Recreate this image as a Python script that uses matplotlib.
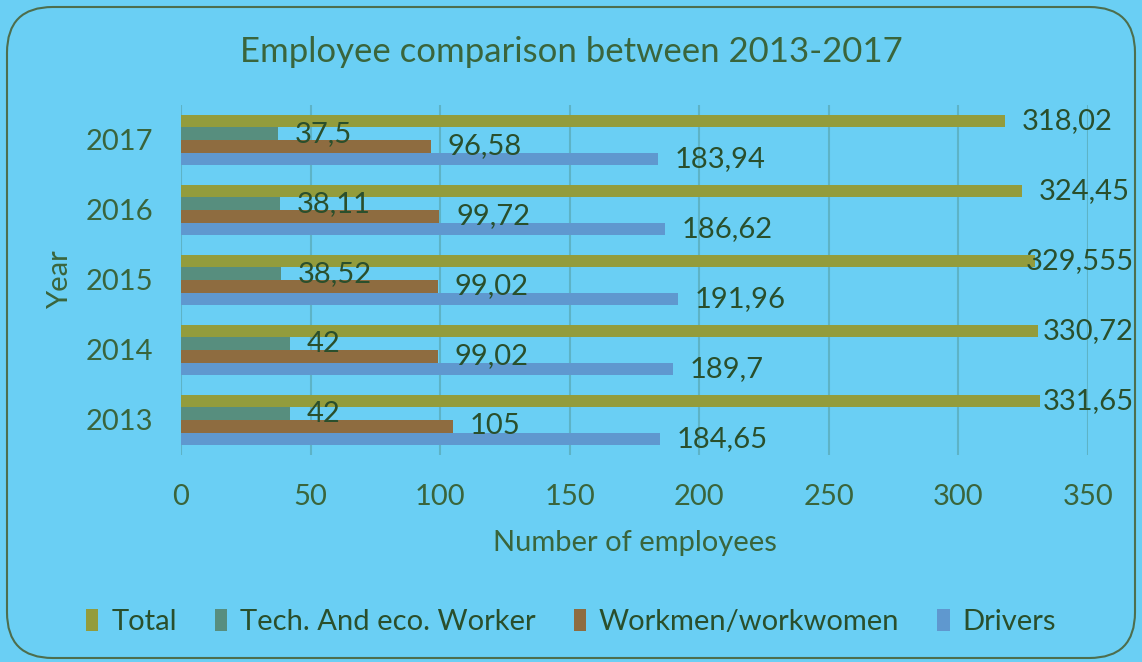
import numpy as np
import matplotlib.pyplot as plt
from matplotlib.patches import FancyBboxPatch

# Employee counts per year (labels use comma as decimal separator)
years = ['2013', '2014', '2015', '2016', '2017']
total = [331.65, 330.72, 329.555, 324.45, 318.02]
tech_eco = [42, 42, 38.52, 38.11, 37.5]
workmen = [105, 99.02, 99.02, 99.72, 96.58]
drivers = [184.65, 189.7, 191.96, 186.62, 183.94]

series_names = ['Total', 'Tech. And eco. Worker', 'Workmen/workwomen', 'Drivers']
series_values = [total, tech_eco, workmen, drivers]
series_colors = ['#939C3C', '#578E7E', '#8E6C40', '#5F98CF']

bg = '#6ACFF4'
text_dark = '#2A4F2C'
text_mid = '#3A653C'
grid_col = '#5DB3C6'

plt.rcParams['font.family'] = ['Lato', 'DejaVu Sans']

W, H = 1142, 662
fig = plt.figure(figsize=(W / 100, H / 100), dpi=100)
fig.patch.set_facecolor(bg)

# rounded chart border
border = FancyBboxPatch((7 / W, 4 / H), 1128 / W, 651 / H,
                        boxstyle='round,pad=0,rounding_size=0.04',
                        transform=fig.transFigure, facecolor='none',
                        edgecolor='#4D6E4D', linewidth=1.5, mutation_aspect=W / H)
fig.patches.append(border)

ax = fig.add_axes([181 / W, 1 - 455 / H, (1088 - 181) / W, 350 / H])
ax.set_facecolor(bg)

y = np.arange(len(years))
h = 0.18
offsets = [1.5 * h, 0.5 * h, -0.5 * h, -1.5 * h]

all_labels = []
for name, vals, col, off in zip(series_names, series_values, series_colors, offsets):
    bars = ax.barh(y + off, vals, height=h, color=col, label=name, zorder=2)
    labels = [f'{v:g}'.replace('.', ',') for v in vals]
    all_labels += ax.bar_label(bars, labels=labels, padding=12, fontsize=21,
                               color=text_dark)

ax.set_xlim(0, 350)
ax.set_ylim(-0.5, 4.5)
ax.set_xticks(np.arange(0, 351, 50))
ax.set_yticks(y)
ax.set_yticklabels(years)
ax.grid(axis='x', color=grid_col, linewidth=1.5, zorder=0)
ax.tick_params(axis='both', length=0, labelsize=21, colors=text_mid)
ax.tick_params(axis='x', pad=21)
ax.tick_params(axis='y', pad=20)
for s in ax.spines.values():
    s.set_visible(False)

ax.set_xlabel('Number of employees', fontsize=21, color=text_mid, labelpad=14)
ax.set_ylabel('Year', fontsize=21, color=text_mid, labelpad=9)

fig.text(0.5, 1 - 52 / H, 'Employee comparison between 2013-2017',
         ha='center', va='center', fontsize=25, color=text_mid)

fig.legend(loc='center', bbox_to_anchor=(0.5, 1 - 622 / H), ncol=4, frameon=False,
           fontsize=21, handlelength=0.42, handleheight=0.75, handletextpad=0.45,
           columnspacing=1.3, labelcolor=text_dark)

# keep value labels inside the chart border: pull long ones back to the edge
fig.canvas.draw()
renderer = fig.canvas.get_renderer()
right_edge = 1134
for t in all_labels:
    x1 = t.get_window_extent(renderer).x1
    if x1 > right_edge:
        dx, dy = t.xyann
        t.xyann = (dx - (x1 - right_edge) * 72 / 100, dy)

fig.savefig('out.png', dpi=100, facecolor=bg)
